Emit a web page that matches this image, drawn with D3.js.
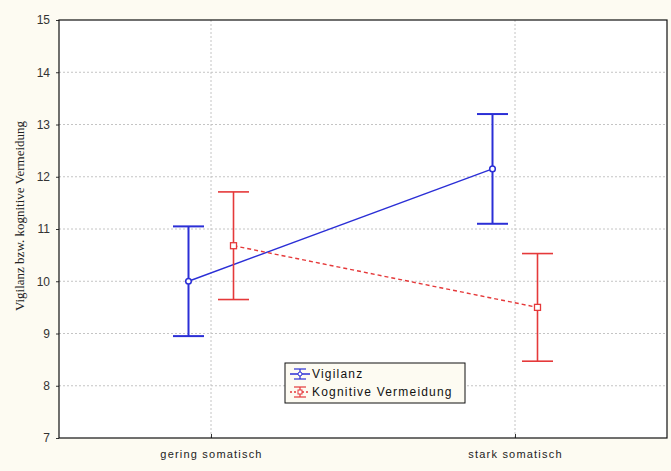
<!DOCTYPE html>
<html><head><meta charset="utf-8">
<script src="https://cdn.jsdelivr.net/npm/d3@7"></script>
<style>body{margin:0;background:#fdfbf2;}svg{display:block;}</style>
</head><body>
<svg id="c" width="671" height="471"></svg>
<script>
const categories = ["gering somatisch", "stark somatisch"];
const seriesNames = ["Vigilanz", "Kognitive Vermeidung"];
const vigilanzMean = [10.0, 12.15];
const vigilanzErr = [1.05, 1.05];
const vermeidungMean = [10.68, 9.5];
const vermeidungErr = [1.03, 1.03];
const yTicks = [7, 8, 9, 10, 11, 12, 13, 14, 15];
const yLabel = "Vigilanz bzw. kognitive Vermeidung";

const svg = d3.select("#c");
const L = 59, R = 667, T = 20, B = 438;
svg.append("rect").attr("x", 0).attr("y", 0).attr("width", 671).attr("height", 471).attr("fill", "#fdfbf2");
svg.append("rect").attr("x", L).attr("y", T).attr("width", R - L).attr("height", B - T).attr("fill", "#fff");

const y = d3.scaleLinear().domain([7, 15]).range([B, T]);
const x = d3.scalePoint().domain(categories).range([L, R]).padding(0.5);
const off = 22.5;

// grid
svg.append("g").selectAll("line").data(yTicks.filter(t => t > 7 && t < 15)).join("line")
  .attr("x1", L).attr("x2", R).attr("y1", d => y(d)).attr("y2", d => y(d))
  .attr("stroke", "#c4c4c4").attr("stroke-width", 1).attr("stroke-dasharray", "2,2");
svg.append("g").selectAll("line").data(categories).join("line")
  .attr("x1", d => x(d)).attr("x2", d => x(d)).attr("y1", T).attr("y2", B)
  .attr("stroke", "#c4c4c4").attr("stroke-width", 1).attr("stroke-dasharray", "2,2");

// axes
const yAxis = d3.axisLeft(y).tickValues(yTicks).tickSize(3).tickPadding(6);
const gy = svg.append("g").attr("transform", `translate(${L},0)`).call(yAxis);
gy.select(".domain").remove();
gy.selectAll("text").attr("font-family", "Arial, 'Liberation Sans', sans-serif").attr("font-size", 12).attr("fill", "#333");
gy.selectAll("line").attr("stroke", "#333");

const xAxis = d3.axisBottom(x).tickSize(-4).tickPadding(10);
const gx = svg.append("g").attr("transform", `translate(0,${B})`).call(xAxis);
gx.select(".domain").remove();
gx.selectAll("text").attr("font-family", "Arial, 'Liberation Sans', sans-serif").attr("font-size", 11)
  .attr("fill", "#222").attr("letter-spacing", "1.2px").attr("dy", "0.9em");
gx.selectAll("line").attr("stroke", "#333");

// frame
svg.append("rect").attr("x", L).attr("y", T).attr("width", R - L).attr("height", B - T)
  .attr("fill", "none").attr("stroke", "#111").attr("stroke-width", 1.2);

// y label
svg.append("text").attr("transform", `translate(24,216) rotate(-90)`)
  .attr("text-anchor", "middle").attr("font-family", "'Liberation Serif', 'Times New Roman', serif")
  .attr("font-size", 13).attr("fill", "#222").text(yLabel);

const series = [
  {name: seriesNames[0], mean: vigilanzMean, err: vigilanzErr, color: "#2b2fd6", dx: -off, dash: null, w: 2, marker: "circle"},
  {name: seriesNames[1], mean: vermeidungMean, err: vermeidungErr, color: "#e5393a", dx: off, dash: "4,3", w: 1.6, marker: "square"}
];

series.forEach(s => {
  const pts = categories.map((c, i) => ({x: x(c) + s.dx, m: s.mean[i], e: s.err[i]}));
  const g = svg.append("g");
  g.append("path").attr("d", d3.line().x(d => d.x).y(d => y(d.m))(pts))
    .attr("fill", "none").attr("stroke", s.color).attr("stroke-width", 1.4)
    .attr("stroke-dasharray", s.dash);
  pts.forEach(p => {
    g.append("line").attr("x1", p.x).attr("x2", p.x).attr("y1", y(p.m + p.e)).attr("y2", y(p.m - p.e))
      .attr("stroke", s.color).attr("stroke-width", s.w);
    [p.m + p.e, p.m - p.e].forEach(v => g.append("line").attr("x1", p.x - 15.5).attr("x2", p.x + 15.5)
      .attr("y1", y(v)).attr("y2", y(v)).attr("stroke", s.color).attr("stroke-width", s.w));
    if (s.marker === "circle") {
      g.append("circle").attr("cx", p.x).attr("cy", y(p.m)).attr("r", 2.8)
        .attr("fill", "#fff").attr("stroke", s.color).attr("stroke-width", 1.5);
    } else {
      g.append("rect").attr("x", p.x - 3).attr("y", y(p.m) - 3).attr("width", 6).attr("height", 6)
        .attr("fill", "#fff").attr("stroke", s.color).attr("stroke-width", 1.3);
    }
  });
});

// legend
const lg = svg.append("g").attr("transform", "translate(285,363)");
lg.append("rect").attr("width", 180).attr("height", 40).attr("fill", "#fdfbf2")
  .attr("stroke", "#111").attr("stroke-width", 1);
series.forEach((s, i) => {
  const cy = 11 + i * 18;
  const row = lg.append("g").attr("transform", `translate(0,${cy})`);
  row.append("line").attr("x1", 5).attr("x2", 25).attr("y1", 0).attr("y2", 0)
    .attr("stroke", s.color).attr("stroke-width", 1.5).attr("stroke-dasharray", s.dash ? "2,2" : null);
  row.append("line").attr("x1", 15).attr("x2", 15).attr("y1", -5).attr("y2", 5).attr("stroke", s.color).attr("stroke-width", 1.2);
  row.append("line").attr("x1", 9).attr("x2", 21).attr("y1", -5).attr("y2", -5).attr("stroke", s.color).attr("stroke-width", 1.2);
  row.append("line").attr("x1", 9).attr("x2", 21).attr("y1", 5).attr("y2", 5).attr("stroke", s.color).attr("stroke-width", 1.2);
  if (s.marker === "circle") row.append("circle").attr("cx", 15).attr("cy", 0).attr("r", 2).attr("fill", "#fff").attr("stroke", s.color);
  else row.append("rect").attr("x", 13).attr("y", -2).attr("width", 4).attr("height", 4).attr("fill", "#fff").attr("stroke", s.color);
  row.append("text").attr("x", 27).attr("y", 0).attr("dy", "0.35em")
    .attr("font-family", "Arial, 'Liberation Sans', sans-serif").attr("font-size", 12)
    .attr("letter-spacing", "1.2px").attr("fill", "#111").text(s.name);
});
</script>
</body></html>
